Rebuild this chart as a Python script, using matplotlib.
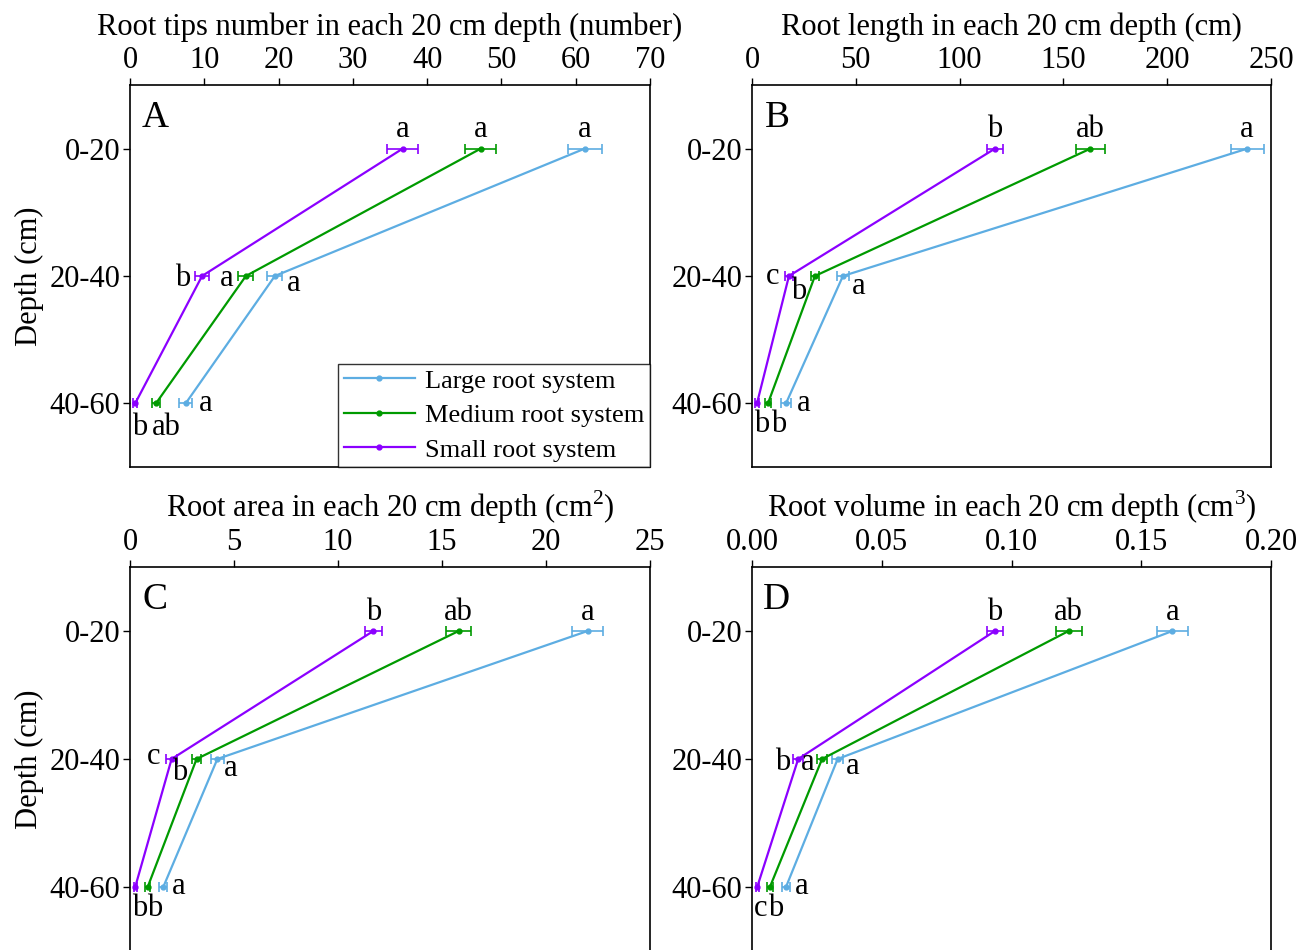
import matplotlib
matplotlib.use("Agg")
import matplotlib.pyplot as plt
from matplotlib.lines import Line2D
import numpy as np

plt.rcParams['font.family'] = ['Liberation Serif', 'DejaVu Serif']
plt.rcParams['mathtext.fontset'] = 'custom'
plt.rcParams['mathtext.rm'] = 'Liberation Serif'

depths = ["0-20", "20-40", "40-60"]
series = ["Large root system", "Medium root system", "Small root system"]
colors = ["#5DADE2", "#009A00", "#8B00FF"]

# Panel A: root tips number
tips_mean = {"Large": [61.2, 19.5, 7.5], "Medium": [47.2, 15.6, 3.5], "Small": [36.7, 9.7, 0.7]}
tips_err = {"Large": [2.3, 1.0, 0.9], "Medium": [2.1, 1.0, 0.5], "Small": [2.1, 1.0, 0.3]}
tips_let = {"Large": ["a", "a", "a"], "Medium": ["a", "a", "ab"], "Small": ["a", "b", "b"]}

# Panel B: root length
len_mean = {"Large": [238.5, 43.8, 16.4], "Medium": [163.0, 30.3, 7.7], "Small": [117.0, 17.8, 2.4]}
len_err = {"Large": [8.0, 3.0, 2.5], "Medium": [7.0, 2.0, 1.5], "Small": [4.0, 2.0, 1.0]}
len_let = {"Large": ["a", "a", "a"], "Medium": ["ab", "b", "b"], "Small": ["b", "c", "b"]}

# Panel C: root area
area_mean = {"Large": [22.0, 4.2, 1.6], "Medium": [15.8, 3.2, 0.85], "Small": [11.7, 2.0, 0.25]}
area_err = {"Large": [0.75, 0.3, 0.2], "Medium": [0.6, 0.2, 0.12], "Small": [0.4, 0.25, 0.08]}
area_let = {"Large": ["a", "a", "a"], "Medium": ["ab", "b", "b"], "Small": ["b", "c", "b"]}

# Panel D: root volume
vol_mean = {"Large": [0.162, 0.033, 0.0131], "Medium": [0.122, 0.027, 0.0069], "Small": [0.0936, 0.0178, 0.002]}
vol_err = {"Large": [0.006, 0.002, 0.0015], "Medium": [0.005, 0.002, 0.001], "Small": [0.003, 0.002, 0.0006]}
vol_let = {"Large": ["a", "a", "a"], "Medium": ["ab", "a", "b"], "Small": ["b", "b", "c"]}

keys = ["Large", "Medium", "Small"]
FS = 22

panels = [
    dict(tag="A", mean=tips_mean, err=tips_err, let=tips_let,
         xlabel="Root tips number in each 20 cm depth (number)",
         xlim=(0, 70), xticks=[0, 10, 20, 30, 40, 50, 60, 70], fmt="{:.0f}",
         rect=[130/1309, 1-467/950, 520/1309, 382/950], ylabel=True, legend=True,
         offs={"Large": [(0, 19, 'center'), (12, -7, 'left'), (13, 0, 'left')],
               "Medium": [(0, 19, 'center'), (-12, -2, 'right'), (-4, -24, 'left')],
               "Small": [(0, 19, 'center'), (-12, -2, 'right'), (-3, -24, 'left')]}),
    dict(tag="B", mean=len_mean, err=len_err, let=len_let,
         xlabel="Root length in each 20 cm depth (cm)",
         xlim=(0, 250), xticks=[0, 50, 100, 150, 200, 250], fmt="{:.0f}",
         rect=[752/1309, 1-467/950, 519/1309, 382/950], ylabel=False, legend=False,
         offs={"Large": [(0, 19, 'center'), (9, -10, 'left'), (11, 0, 'left')],
               "Medium": [(0, 19, 'center'), (-9, -15, 'right'), (11, -21, 'center')],
               "Small": [(0, 19, 'center'), (-10, 0, 'right'), (5, -21, 'center')]}),
    dict(tag="C", mean=area_mean, err=area_err, let=area_let,
         xlabel="Root area in each 20 cm depth (cm$^{2}$)",
         xlim=(0, 25), xticks=[0, 5, 10, 15, 20, 25], fmt="{:.0f}",
         rect=[130/1309, -1/950, 520/1309, 384/950], ylabel=True, legend=False,
         offs={"Large": [(0, 19, 'center'), (7, -9, 'left'), (9, 0, 'left')],
               "Medium": [(0, 19, 'center'), (-9, -14, 'right'), (7, -22, 'center')],
               "Small": [(0, 19, 'center'), (-11, 2, 'right'), (4, -22, 'center')]}),
    dict(tag="D", mean=vol_mean, err=vol_err, let=vol_let,
         xlabel="Root volume in each 20 cm depth (cm$^{3}$)",
         xlim=(0, 0.2), xticks=[0.0, 0.05, 0.10, 0.15, 0.20], fmt="{:.2f}",
         rect=[752/1309, -1/950, 519/1309, 384/950], ylabel=False, legend=False,
         offs={"Large": [(0, 19, 'center'), (8, -8, 'left'), (9, 0, 'left')],
               "Medium": [(0, 19, 'center'), (-8, -3, 'right'), (6, -22, 'center')],
               "Small": [(0, 19, 'center'), (-8, -3, 'right'), (3, -22, 'center')]}),
]

fig = plt.figure(figsize=(13.09, 9.5), dpi=100)
ypos = np.arange(len(depths))

for p in panels:
    ax = fig.add_axes(p["rect"])
    for k, name, c in zip(keys, series, colors):
        ax.errorbar(p["mean"][k], ypos, xerr=p["err"][k], color=c, lw=1.6,
                    marker='o', markersize=3.5, elinewidth=1.2, capsize=3.5,
                    capthick=1.2, label=name)
        for i, (x, lt) in enumerate(zip(p["mean"][k], p["let"][k])):
            dx, dy, ha = p["offs"][k][i]
            ax.annotate(lt, (x, ypos[i]), xytext=(dx, dy), textcoords='offset pixels',
                        ha=ha, va='center', fontsize=FS)
    ax.set_xlim(*p["xlim"])
    ax.set_ylim(2.5, -0.5)
    ax.set_xticks(p["xticks"])
    ax.set_xticklabels([p["fmt"].format(t) for t in p["xticks"]])
    ax.set_yticks(ypos)
    ax.set_yticklabels(depths)
    ax.xaxis.tick_top()
    ax.xaxis.set_label_position('top')
    ax.set_xlabel(p["xlabel"], fontsize=FS, labelpad=8)
    ax.tick_params(axis='both', labelsize=FS, length=5, width=1.0, direction='out')
    ax.tick_params(axis='x', pad=2)
    ax.tick_params(axis='y', pad=2)
    for s in ax.spines.values():
        s.set_linewidth(1.2)
    if p["ylabel"]:
        ax.set_ylabel("Depth (cm)", fontsize=FS, labelpad=4)
    ax.text(0.048, 0.915, p["tag"], transform=ax.transAxes, fontsize=27,
            ha='center', va='center')
    if p["legend"]:
        handles = [Line2D([], [], color=c, lw=1.6, marker='o', markersize=3.5)
                   for c in colors]
        leg = ax.legend(handles, series, loc='lower right', fontsize=19, frameon=True,
                        fancybox=False, edgecolor='black', borderaxespad=0,
                        handlelength=2.7, labelspacing=0.42, borderpad=0.2,
                        handletextpad=0.4)
        leg.get_frame().set_linewidth(1.0)

fig.savefig("out.png", dpi=100)
